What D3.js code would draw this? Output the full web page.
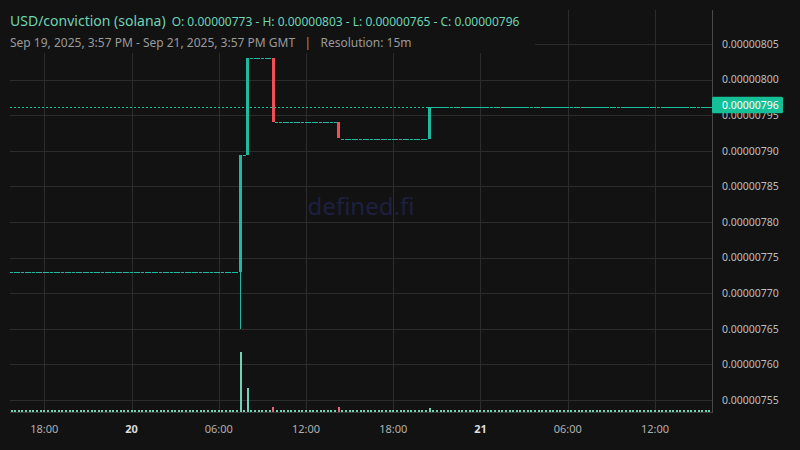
<!DOCTYPE html>
<html><head><meta charset="utf-8">
<script src="https://cdn.jsdelivr.net/npm/d3@7"></script>
<style>html,body{margin:0;padding:0;background:#121212;}svg{display:block}</style>
</head><body><svg id="c" width="800" height="450"></svg>
<script>
// ---------- DATA (prices in units of 1e-8 USD) ----------
const pairTitle = "USD/conviction (solana)";
const ohlcSummary = "O: 0.00000773 - H: 0.00000803 - L: 0.00000765 - C: 0.00000796";
const rangeText = "Sep 19, 2025, 3:57 PM - Sep 21, 2025, 3:57 PM GMT";
const resolutionText = "Resolution: 15m";
const watermark = "defined.fi";

// first candle open time (UTC) and candle interval (15 minutes)
const firstCandle = Date.UTC(2025, 8, 19, 15, 45);
const candleMinutes = 15;
const viewStart = Date.UTC(2025, 8, 19, 15, 57);
const viewEnd = Date.UTC(2025, 8, 21, 15, 57);

const opens = [
  773,773,773,773,773,773,773,773, 773,773,773,773,773,773,773,773,
  773,773,773,773,773,773,773,773, 773,773,773,773,773,773,773,773,
  773,773,773,773,773,773,773,773, 773,773,773,773,773,773,773,773,
  773,773,773,773,773,773,773,773, 773,773,773,773,773,773,773,773,
  789.4,789.4,
  803,803,803,803,803,803,803,
  794,794,794,794,794,794,794,794,794, 794,794,794,794,794,794,794,794,794,
  791.7,791.7,791.7,791.7,791.7,791.7,791.7,791.7,791.7,791.7,791.7,791.7,791.7,
  791.7,791.7,791.7,791.7,791.7,791.7,791.7,791.7,791.7,791.7,791.7,791.7,
  796.2,796.2,796.2,796.2,796.2,796.2,796.2,796.2, 796.2,796.2,796.2,796.2,796.2,796.2,796.2,796.2,
  796.2,796.2,796.2,796.2,796.2,796.2,796.2,796.2, 796.2,796.2,796.2,796.2,796.2,796.2,796.2,796.2,
  796.2,796.2,796.2,796.2,796.2,796.2,796.2,796.2, 796.2,796.2,796.2,796.2,796.2,796.2,796.2,796.2,
  796.2,796.2,796.2,796.2,796.2,796.2,796.2,796.2, 796.2,796.2,796.2,796.2,796.2,796.2,796.2,796.2,
  796.2,796.2,796.2,796.2,796.2,796.2,796.2,796.2, 796.2,796.2,796.2,796.2,796.2
];
const closes = [
  773,773,773,773,773,773,773,773, 773,773,773,773,773,773,773,773,
  773,773,773,773,773,773,773,773, 773,773,773,773,773,773,773,773,
  773,773,773,773,773,773,773,773, 773,773,773,773,773,773,773,773,
  773,773,773,773,773,773,773,773, 773,773,773,773,773,773,773,
  789.4,789.4,
  803,803,803,803,803,803,803,
  794,794,794,794,794,794,794,794,794, 794,794,794,794,794,794,794,794,794,
  791.7,791.7,791.7,791.7,791.7,791.7,791.7,791.7,791.7,791.7,791.7,791.7,791.7,
  791.7,791.7,791.7,791.7,791.7,791.7,791.7,791.7,791.7,791.7,791.7,791.7,
  796.2,796.2,796.2,796.2,796.2,796.2,796.2,796.2, 796.2,796.2,796.2,796.2,796.2,796.2,796.2,796.2,
  796.2,796.2,796.2,796.2,796.2,796.2,796.2,796.2, 796.2,796.2,796.2,796.2,796.2,796.2,796.2,796.2,
  796.2,796.2,796.2,796.2,796.2,796.2,796.2,796.2, 796.2,796.2,796.2,796.2,796.2,796.2,796.2,796.2,
  796.2,796.2,796.2,796.2,796.2,796.2,796.2,796.2, 796.2,796.2,796.2,796.2,796.2,796.2,796.2,796.2,
  796.2,796.2,796.2,796.2,796.2,796.2,796.2,796.2, 796.2,796.2,796.2,796.2,796.2,796.2
];
// candles with a wick beyond the body
const wickIndex = [63];
const wickLow = [765];
const wickHigh = [789.4];
// candles with notable volume (others are near zero)
const volumeIndex = [63, 65, 72, 90, 115];
const volumeValue = [600, 235, 45, 45, 35];

const yTickValues = [755, 760, 765, 770, 775, 780, 785, 790, 795, 800, 805];
const lastClose = 796.2;
const lastCloseLabel = "0.00000796";

// ---------- LAYOUT ----------
const W = 800, H = 450;
const plotLeft = 10, plotRight = 712, plotTop = 10, plotBottom = 412;
const bg = "#121212", grid = "#2c2c2c";
const up = "#20b89e", down = "#ef4f57";
const volUp = "#6fd4b6", volDown = "#e8637a";

const svg = d3.select("#c");
svg.append("rect").attr("width", W).attr("height", H).attr("fill", bg);

const x = d3.scaleUtc().domain([viewStart, viewEnd]).range([14.5, 712.4]);
const y = d3.scaleLinear().domain([755, 805]).range([400, 44]);
const yVol = d3.scaleLinear().domain([0, 600]).range([411.5, 352]);

const n = closes.length;
const candles = d3.range(n).map(i => {
  const o = opens[i], c = closes[i];
  const wi = wickIndex.indexOf(i);
  const vi = volumeIndex.indexOf(i);
  return {
    t: new Date(firstCandle + i * candleMinutes * 60000),
    o, c,
    h: wi >= 0 ? Math.max(wickHigh[wi], o, c) : Math.max(o, c),
    l: wi >= 0 ? Math.min(wickLow[wi], o, c) : Math.min(o, c),
    v: vi >= 0 ? volumeValue[vi] : 0
  };
});

svg.append("clipPath").attr("id", "plotclip")
  .append("rect").attr("x", plotLeft).attr("y", plotTop)
  .attr("width", plotRight - plotLeft).attr("height", plotBottom - plotTop);

// grid
const gGrid = svg.append("g");
gGrid.selectAll("line.h").data(yTickValues).join("line")
  .attr("x1", plotLeft).attr("x2", plotRight)
  .attr("y1", d => Math.round(y(d)) + 0.5).attr("y2", d => Math.round(y(d)) + 0.5)
  .attr("stroke", grid).attr("stroke-width", 1);
const xTicks = x.ticks(d3.utcHour.every(6));
gGrid.selectAll("line.v").data(xTicks).join("line")
  .attr("x1", d => Math.round(x(d)) + 0.5).attr("x2", d => Math.round(x(d)) + 0.5)
  .attr("y1", plotTop).attr("y2", plotBottom)
  .attr("stroke", grid).attr("stroke-width", 1);

// watermark
svg.append("text").attr("x", 361).attr("y", 215).attr("text-anchor", "middle")
  .attr("font-family", "Noto Sans").attr("font-size", 24).attr("fill", "#1d2040")
  .text(watermark);

const gPlot = svg.append("g").attr("clip-path", "url(#plotclip)").attr("shape-rendering", "crispEdges");
const bw = 3, vbw = 2;

// volume bars
gPlot.selectAll("rect.vol").data(candles).join("rect")
  .attr("x", d => Math.round(x(d.t) - vbw / 2))
  .attr("width", vbw)
  .attr("y", d => Math.round(Math.min(yVol(d.v), 410)))
  .attr("height", d => Math.max(1.5, 411.5 - Math.round(Math.min(yVol(d.v), 410))))
  .attr("fill", d => d.c >= d.o ? volUp : volDown);

// wicks
gPlot.selectAll("rect.wick").data(candles.filter(d => d.h > Math.max(d.o, d.c) || d.l < Math.min(d.o, d.c))).join("rect")
  .attr("x", d => Math.round(x(d.t) - bw / 2) + 1).attr("width", 1)
  .attr("y", d => y(d.h)).attr("height", d => y(d.l) - y(d.h))
  .attr("fill", d => d.c >= d.o ? up : down);

// bodies
gPlot.selectAll("rect.body").data(candles).join("rect")
  .attr("x", d => Math.round(x(d.t) - bw / 2))
  .attr("width", bw)
  .attr("y", d => Math.round(Math.min(y(d.o), y(d.c))))
  .attr("height", d => Math.max(1, Math.round(Math.abs(y(d.o) - y(d.c)))))
  .attr("fill", d => d.c >= d.o ? up : down);

// last price dotted line
const ly = y(lastClose);
svg.append("line").attr("x1", plotLeft).attr("x2", plotRight)
  .attr("y1", Math.round(ly) + 0.5).attr("y2", Math.round(ly) + 0.5)
  .attr("stroke", "#19c49a").attr("stroke-width", 1).attr("stroke-dasharray", "2,2");

// bottom border & right axis line
svg.append("line").attr("x1", plotLeft).attr("x2", plotRight).attr("y1", 412.5).attr("y2", 412.5)
  .attr("stroke", "#3a3a3a");
svg.append("line").attr("x1", 712.5).attr("x2", 712.5).attr("y1", plotTop).attr("y2", 413)
  .attr("stroke", "#4a4a4a");

// y axis labels
svg.append("g").selectAll("text").data(yTickValues).join("text")
  .attr("x", 722).attr("y", d => y(d)).attr("dy", "0.36em")
  .attr("font-family", "Noto Sans").attr("font-size", 10.5).attr("fill", "#bdbdbd")
  .text(d => (d * 1e-8).toFixed(8));

// last price label
svg.append("rect").attr("x", 712).attr("y", ly - 10).attr("width", 71).attr("height", 16.5)
  .attr("rx", 1.5).attr("fill", "#16c096");
svg.append("text").attr("x", 722).attr("y", ly - 1.8).attr("dy", "0.36em")
  .attr("font-family", "Noto Sans").attr("font-size", 10.5).attr("fill", "#ffffff")
  .text(lastCloseLabel);

// x axis labels
const fmtHour = d3.utcFormat("%H:%M");
svg.append("g").selectAll("text").data(xTicks).join("text")
  .attr("x", d => x(d)).attr("y", 429).attr("dy", "0.36em").attr("text-anchor", "middle")
  .attr("font-family", "Noto Sans").attr("font-size", 11)
  .attr("font-weight", d => d.getUTCHours() === 0 ? "bold" : "normal")
  .attr("fill", d => d.getUTCHours() === 0 ? "#dddddd" : "#b0b0b0")
  .text(d => d.getUTCHours() === 0 ? d3.utcFormat("%-d")(d) : fmtHour(d));

// header (legend) box
svg.append("rect").attr("x", 0).attr("y", 0).attr("width", 535).attr("height", 53).attr("fill", bg);
const t1 = svg.append("text").attr("x", 10).attr("y", 25.5)
  .attr("font-family", "Noto Sans").attr("fill", "#6dd4b4");
t1.append("tspan").attr("font-size", 14).text(pairTitle);
t1.append("tspan").attr("font-size", 12).attr("dx", 6).text(ohlcSummary);
svg.append("text").attr("x", 10).attr("y", 46.5)
  .attr("font-family", "Noto Sans").attr("font-size", 12).attr("fill", "#9a9a9a")
  .attr("xml:space", "preserve")
  .text(rangeText + "   |   " + resolutionText);
</script></body></html>
